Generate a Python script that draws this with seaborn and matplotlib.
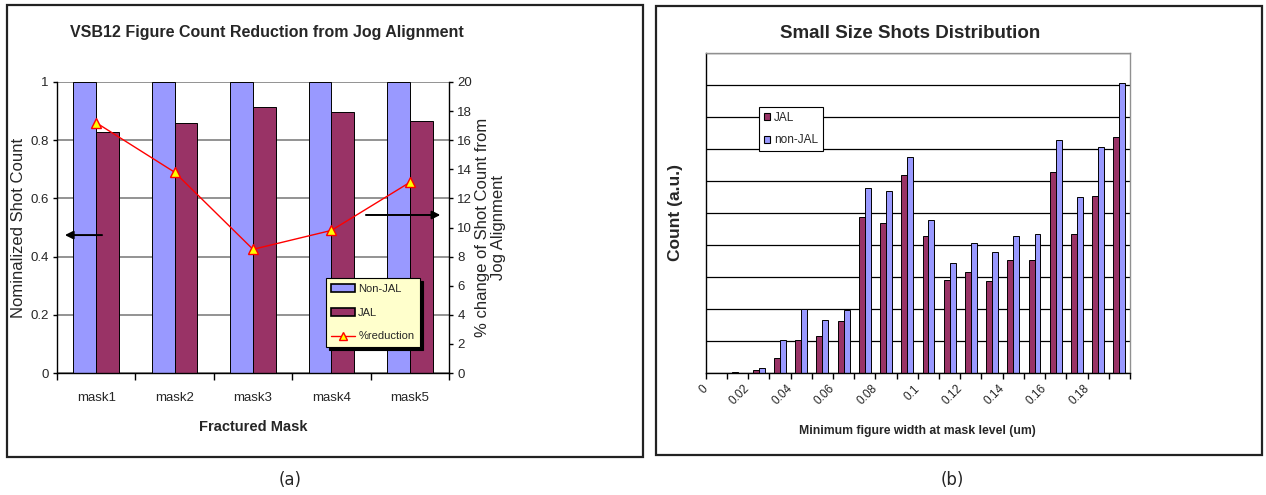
import numpy as np
import pandas as pd
import matplotlib
matplotlib.use("Agg")
import matplotlib.pyplot as plt
import seaborn as sns
from matplotlib.patches import Rectangle, Patch
from matplotlib.lines import Line2D

# ---- (a) figure count per fractured mask ----
masks = ["mask1", "mask2", "mask3", "mask4", "mask5"]
non_jal_norm = [1.0, 1.0, 1.0, 1.0, 1.0]
jal_norm = [0.827, 0.860, 0.914, 0.898, 0.865]
reduction_pct = [17.2, 13.8, 8.5, 9.8, 13.1]
left_yticks = [0, 0.2, 0.4, 0.6, 0.8, 1.0]
left_yticklabels = ["0", "0.2", "0.4", "0.6", "0.8", "1"]
right_yticks = [0, 2, 4, 6, 8, 10, 12, 14, 16, 18, 20]

# ---- (b) small-shot distribution, bins of 0.01 um ----
bin_start_um = ["0.00", "0.01", "0.02", "0.03", "0.04", "0.05", "0.06", "0.07",
                "0.08", "0.09", "0.10", "0.11", "0.12", "0.13", "0.14", "0.15",
                "0.16", "0.17", "0.18", "0.19"]
jal_counts = [0, 0.03, 0.10, 0.46, 1.04, 1.16, 1.62, 4.88, 4.69, 6.20,
              4.27, 2.90, 3.17, 2.86, 3.53, 3.53, 6.27, 4.34, 5.54, 7.37]
nonjal_counts = [0, 0, 0.15, 1.04, 2.01, 1.66, 1.97, 5.77, 5.69, 6.74,
                 4.77, 3.44, 4.06, 3.79, 4.27, 4.34, 7.28, 5.49, 7.06, 9.07]
edge_labels = ["0", "", "0.02", "", "0.04", "", "0.06", "", "0.08", "", "0.1",
               "", "0.12", "", "0.14", "", "0.16", "", "0.18", "", ""]

BLUE = "#9999FF"
PLUM = "#993366"

sns.set_theme(style="white")
plt.rcParams["font.family"] = ["Liberation Sans", "DejaVu Sans"]

W, H = 1266, 495
fig = plt.figure(figsize=(W / 100, H / 100), dpi=100)


def fx(px):
    return px / W


def fy(py):
    return 1 - py / H


# panel frames
for x0, y0, x1, y1 in [(7, 5, 643, 457), (656, 6, 1262, 455)]:
    fig.add_artist(Rectangle((fx(x0), fy(y1)), fx(x1 - x0), (y1 - y0) / H,
                             transform=fig.transFigure, fill=False,
                             edgecolor="#222222", lw=1.6))

# ================= panel (a) =================
ax = fig.add_axes([fx(57), fy(373), fx(449 - 57), (373 - 82) / H])
df_a = pd.DataFrame({
    "mask": masks * 2,
    "series": ["Non-JAL"] * 5 + ["JAL"] * 5,
    "value": non_jal_norm + jal_norm,
})
sns.barplot(data=df_a, x="mask", y="value", hue="series",
            hue_order=["Non-JAL", "JAL"],
            palette={"Non-JAL": BLUE, "JAL": PLUM}, saturation=1,
            width=0.58, errorbar=None, edgecolor="black", linewidth=0.7,
            legend=False, ax=ax)
ax.set_xlim(-0.5, 4.5)
ax.set_ylim(0, 1)
ax.set_yticks(left_yticks)
ax.set_yticklabels(left_yticklabels)
ax.set_axisbelow(True)
ax.yaxis.grid(True, color="#808080", lw=1.2)
ax.xaxis.grid(False)
ax.set_xticks(np.arange(5))
ax.set_xticks(np.arange(6) - 0.5, minor=True)
ax.tick_params(axis="x", which="major", length=0, pad=14, labelsize=9.5)
ax.tick_params(axis="x", which="minor", length=5, width=1, color="black",
               direction="out", bottom=True)
ax.tick_params(axis="y", length=3, width=1, color="black", direction="out",
               left=True, pad=3, labelsize=9.5)
for side in ["left", "bottom"]:
    ax.spines[side].set_color("black")
    ax.spines[side].set_linewidth(1)
ax.spines["top"].set_visible(False)
ax.spines["right"].set_visible(False)
ax.set_xlabel("Fractured Mask", fontsize=10.5, fontweight="bold")
ax.xaxis.set_label_coords(0.5, -0.16)
ax.set_ylabel("Nominalized Shot Count", fontsize=12)
ax.yaxis.set_label_coords(-0.078, 0.5)

ax2 = ax.twinx()
sns.lineplot(x=np.arange(5), y=reduction_pct, ax=ax2, color="red", lw=1,
             marker="^", markersize=6.5, markerfacecolor="yellow",
             markeredgecolor="red", markeredgewidth=1)
ax2.set_xlim(-0.5, 4.5)
ax2.set_ylim(0, 20)
ax2.set_yticks(right_yticks)
ax2.tick_params(axis="y", length=3, width=1, color="black", direction="out",
                right=True, pad=3, labelsize=9.5)
for side in ["left", "top", "bottom"]:
    ax2.spines[side].set_visible(False)
ax2.spines["right"].set_color("black")
ax2.spines["right"].set_linewidth(1)
ax2.set_ylabel("% change of Shot Count from\nJog Alignment", fontsize=12,
               linespacing=1.1)
ax2.yaxis.set_label_coords(1.066, 0.5)

handles_a = [
    Patch(facecolor=BLUE, edgecolor="black", lw=1.2, label="Non-JAL"),
    Patch(facecolor=PLUM, edgecolor="black", lw=1.2, label="JAL"),
    Line2D([], [], color="red", lw=1, marker="^", markersize=6,
           markerfacecolor="yellow", markeredgecolor="red", label="%reduction"),
]
leg_a = ax2.legend(handles=handles_a, loc="upper left",
                   bbox_to_anchor=(0.686, 0.326), borderaxespad=0,
                   fontsize=8, frameon=True, fancybox=False,
                   facecolor="#FFFFCC", edgecolor="black", framealpha=1,
                   handlelength=2.1, handleheight=0.7, labelspacing=1.25,
                   handletextpad=0.3, borderpad=0.5,
                   shadow={"color": "black", "alpha": 1})
leg_a.get_frame().set_linewidth(0.8)

# arrows pointing to each value axis
ax.annotate("", xy=(0.013, 0.474), xytext=(0.122, 0.474),
            xycoords="axes fraction",
            arrowprops=dict(arrowstyle="-|>", color="black", lw=1.4,
                            mutation_scale=12))
ax2.annotate("", xy=(0.985, 0.543), xytext=(0.781, 0.543),
             xycoords="axes fraction",
             arrowprops=dict(arrowstyle="-|>", color="black", lw=1.4,
                             mutation_scale=12))

fig.text(fx(267), fy(32), "VSB12 Figure Count Reduction from Jog Alignment",
         ha="center", va="center", fontsize=11.5, fontweight="bold")

# ================= panel (b) =================
bx = fig.add_axes([fx(705.7), fy(373), fx(1130 - 705.7), (373 - 53) / H])
df_b = pd.DataFrame({
    "bin": bin_start_um * 2,
    "series": ["JAL"] * 20 + ["non-JAL"] * 20,
    "count": jal_counts + nonjal_counts,
})
sns.barplot(data=df_b, x="bin", y="count", hue="series", order=bin_start_um,
            hue_order=["JAL", "non-JAL"],
            palette={"JAL": PLUM, "non-JAL": BLUE}, saturation=1,
            width=0.56, errorbar=None, edgecolor="black", linewidth=0.7,
            legend=False, ax=bx)
bx.set_xlim(-0.5, 19.5)
bx.set_ylim(0, 10)
bx.set_yticks(range(11))
bx.set_yticklabels([])
bx.set_axisbelow(True)
bx.yaxis.grid(True, color="black", lw=0.9)
bx.xaxis.grid(False)
bx.tick_params(axis="y", length=0)
bx.set_xticks(np.arange(21) - 0.5)
bx.set_xticklabels(edge_labels, rotation=45, ha="right",
                   rotation_mode="anchor", va="center", fontsize=8.5)
bx.tick_params(axis="x", length=4, width=1, color="black", direction="out",
               bottom=True, pad=6)
bx.spines["left"].set_color("black")
bx.spines["bottom"].set_color("black")
bx.spines["top"].set_color("#909090")
bx.spines["right"].set_color("#909090")
for s in bx.spines.values():
    s.set_linewidth(1)
bx.set_xlabel("Minimum figure width at mask level (um)", fontsize=8.8,
              fontweight="bold")
bx.xaxis.set_label_coords(0.5, -0.162)
bx.set_ylabel("Count (a.u.)", fontsize=12.5, fontweight="bold")
bx.yaxis.set_label_coords(-0.053, 0.5)

handles_b = [
    Patch(facecolor=PLUM, edgecolor="black", lw=0.8, label="JAL"),
    Patch(facecolor=BLUE, edgecolor="black", lw=0.8, label="non-JAL"),
]
leg_b = bx.legend(handles=handles_b, loc="upper left",
                  bbox_to_anchor=(0.126, 0.831), borderaxespad=0,
                  fontsize=8.5, frameon=True, fancybox=False,
                  facecolor="white", edgecolor="black", framealpha=1,
                  handlelength=0.55, handleheight=0.55, labelspacing=0.9,
                  handletextpad=0.3, borderpad=0.4)
leg_b.get_frame().set_linewidth(0.8)

fig.text(fx(910), fy(34), "Small Size Shots Distribution", ha="center",
         va="center", fontsize=13.5, fontweight="bold")

# panel captions
fig.text(fx(290), fy(480), "(a)", ha="center", va="center", fontsize=12,
         family=["DejaVu Sans"])
fig.text(fx(952), fy(480), "(b)", ha="center", va="center", fontsize=12,
         family=["DejaVu Sans"])

fig.savefig("out.png", dpi=100)
